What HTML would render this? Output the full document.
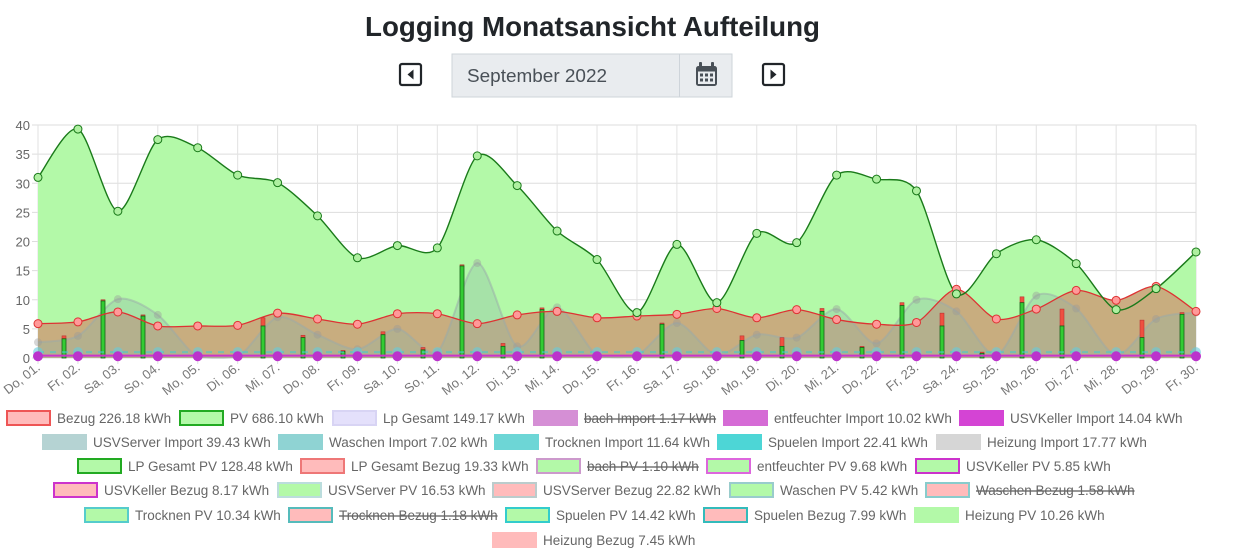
<!DOCTYPE html>
<html><head><meta charset="utf-8"><style>
body{margin:0;width:1246px;height:558px;background:#fff;overflow:hidden;font-family:"Liberation Sans",sans-serif}
svg text{font-family:"Liberation Sans",Arial,sans-serif}
</style></head><body>
<svg id="s" width="1246" height="558" xmlns="http://www.w3.org/2000/svg" style="position:absolute;left:0;top:0">
<text x="365" y="36" textLength="455" lengthAdjust="spacingAndGlyphs" font-weight="bold" font-size="28" fill="#212529">Logging Monatsansicht Aufteilung</text>
<rect x="400" y="64" width="21" height="21" rx="2" fill="none" stroke="#212529" stroke-width="2.2"/>
<path d="M413.5 69.5 L413.5 79.5 L407.5 74.5 Z" fill="#212529"/>
<rect x="452" y="54" width="280" height="43" fill="#e9ecef" stroke="#ced4da"/>
<line x1="679.5" y1="54" x2="679.5" y2="97" stroke="#ced4da"/>
<text x="467" y="82" font-size="18" fill="#495057" textLength="140" lengthAdjust="spacingAndGlyphs">September 2022</text>
<rect x="696" y="66" width="21" height="20" rx="2.5" fill="#495057"/>
<rect x="698" y="71.5" width="17" height="12.5" fill="#e9ecef"/>
<rect x="699" y="62" width="3" height="6" rx="1" fill="#495057"/><rect x="711" y="62" width="3" height="6" rx="1" fill="#495057"/>
<g fill="#495057"><rect x="700" y="73.5" width="3" height="3"/><rect x="705" y="73.5" width="3" height="3"/><rect x="710" y="73.5" width="3" height="3"/><rect x="700" y="78.5" width="3" height="3"/><rect x="705" y="78.5" width="3" height="3"/><rect x="710" y="78.5" width="3" height="3"/></g>
<rect x="763" y="64" width="21" height="21" rx="2" fill="none" stroke="#212529" stroke-width="2.2"/>
<path d="M770.5 69.5 L770.5 79.5 L776.5 74.5 Z" fill="#212529"/>
<g id="g"></g>
</svg>
<script>
var g=document.getElementById('g'),h='';
var X0=38,STEP=(1196-38)/29,Y0=358,K=(358-125)/40;
function X(i){return X0+i*STEP}function Y(v){return Y0-v*K}
var pv=[31,39.3,25.2,37.5,36.1,31.4,30.1,24.4,17.2,19.3,18.9,34.7,29.6,21.8,16.9,7.8,19.5,9.5,21.4,19.8,31.4,30.7,28.7,11.0,17.9,20.3,16.2,8.3,11.9,18.2];
var bz=[5.9,6.2,7.9,5.5,5.5,5.6,7.7,6.7,5.8,7.6,7.6,5.9,7.4,8.0,6.9,7.2,7.5,8.5,6.9,8.3,6.6,5.8,6.1,11.8,6.7,8.4,11.6,9.9,12.3,8.0];
var gr=[2.7,3.8,10.1,7.4,0.2,0.2,7,4,1.5,5,1,16.3,2,8.7,0.5,0.5,6,0.5,4,3.5,8.4,2.5,10,8,0.5,10.7,8.5,0.5,6.7,7.8];
function cl(y){return Math.min(y,Y0)}
function path(d){var p=d.map(function(v,i){return[X(i),Y(v)]});var s='M'+p[0][0]+' '+p[0][1];
for(var i=0;i<p.length-1;i++){var a=p[i-1]||p[i],b=p[i],c=p[i+1],e=p[i+2]||c,t=0.14;
s+=' C'+(b[0]+(c[0]-a[0])*t)+' '+cl(b[1]+(c[1]-a[1])*t)+' '+(c[0]-(e[0]-b[0])*t)+' '+cl(c[1]-(e[1]-b[1])*t)+' '+c[0]+' '+c[1];}return s}
function area(d){return path(d)+' L'+X(29)+' '+Y0+' L'+X0+' '+Y0+' Z'}
for(var v=0;v<=40;v+=5){h+='<line x1="32" x2="1196" y1="'+Y(v)+'" y2="'+Y(v)+'" stroke="#ddd"/>';
h+='<text x="30" y="'+(Y(v)+5)+'" text-anchor="end" font-size="13" fill="#666">'+v+'</text>';}
var days=['Do','Fr','Sa','So','Mo','Di','Mi'];
for(var i=0;i<30;i++){h+='<line x1="'+X(i)+'" x2="'+X(i)+'" y1="125" y2="364" stroke="#e2e2e2"/>';
var lab=days[i%7]+', '+(i<9?'0':'')+(i+1)+'.';
h+='<text transform="translate('+(X(i)+3)+',369) rotate(-38)" text-anchor="end" font-size="13" fill="#777">'+lab+'</text>';}
h+='<line x1="1196" x2="1196" y1="125" y2="364" stroke="#ddd"/>';
h+='<path d="'+area(pv)+'" fill="#b3f9a8"/>';
h+='<path d="'+area(bz)+'" fill="#c9a97c" fill-opacity="0.95"/>';
h+='<path d="'+area(gr)+'" fill="#8fb8a8" fill-opacity="0.35"/>';
h+='<path d="'+path(gr)+'" fill="none" stroke="#9aa" stroke-opacity="0.5" stroke-width="2"/>';
var bars=[[64,3.8,3.3],[103,10,9.8],[143,7.4,7.2],[263,6.9,5.5],[303,3.9,3.5],[343,1.3,1.1],[383,4.5,4],[423,1.8,1.4],[462,16,15.8],[503,2.5,2],[542,8.6,8.3],[662,6,5.8],[742,3.8,3],[782,3.5,2],[822,8.5,8],[862,2,1.8],[902,9.5,9],[942,7.7,5.5],[982,1,0.8],[1022,10.5,9.5],[1062,8.4,5.5],[1142,6.5,3.5],[1182,7.8,7.5]];
bars.forEach(function(b){h+='<rect x="'+(b[0]-2)+'" y="'+Y(b[1])+'" width="4" height="'+(Y(b[2])-Y(b[1]))+'" fill="#ef5040" stroke="#b33" stroke-width="0.6"/>';
h+='<rect x="'+(b[0]-2)+'" y="'+Y(b[2])+'" width="4" height="'+(Y0-Y(b[2]))+'" fill="#33cc33" stroke="#186018" stroke-width="0.8"/>';});
h+='<line x1="38" x2="1196" y1="'+Y(1)+'" y2="'+Y(1)+'" stroke="#4cc" stroke-width="2" stroke-dasharray="6,6" opacity=".6"/>';
h+='<line x1="38" x2="1196" y1="'+Y(0.4)+'" y2="'+Y(0.4)+'" stroke="#c3c" stroke-width="2"/>';
h+='<path d="'+path(bz)+'" fill="none" stroke="#d33" stroke-width="1.3"/>';
h+='<path d="'+path(pv)+'" fill="none" stroke="#1a7a1a" stroke-width="1.4"/>';
for(var i=0;i<30;i++){
h+='<circle cx="'+X(i)+'" cy="'+Y(gr[i])+'" r="4" fill="#999" opacity=".4"/>';
h+='<circle cx="'+X(i)+'" cy="'+Y(1)+'" r="5" fill="#6cd" opacity=".6"/>';
h+='<circle cx="'+X(i)+'" cy="'+Y(0.3)+'" r="5" fill="#b3c"/>';
h+='<circle cx="'+X(i)+'" cy="'+Y(bz[i])+'" r="4" fill="#f99" stroke="#d33"/>';
h+='<circle cx="'+X(i)+'" cy="'+Y(pv[i])+'" r="4" fill="#aef0a0" stroke="#1a7a1a"/>';}
var L=[
[418,[[6,'Bezug 226.18 kWh','#fbb','#e55'],[179,'PV 686.10 kWh','#b3f9a8','#2a2'],[332,'Lp Gesamt 149.17 kWh','#e4e0fb','#d8d4f4'],[533,'bach Import 1.17 kWh','#d58fd5','#d58fd5',1],[723,'entfeuchter Import 10.02 kWh','#d56bd5','#d56bd5'],[959,'USVKeller Import 14.04 kWh','#d444d4','#d444d4']]],
[442,[[42,'USVServer Import 39.43 kWh','#b5d3d3','#b5d3d3'],[278,'Waschen Import 7.02 kWh','#8fd3d3','#8fd3d3'],[494,'Trocknen Import 11.64 kWh','#6dd6d6','#6dd6d6'],[717,'Spuelen Import 22.41 kWh','#4dd6d6','#4dd6d6'],[936,'Heizung Import 17.77 kWh','#d6d6d6','#d6d6d6']]],
[466,[[77,'LP Gesamt PV 128.48 kWh','#b3f9a8','#2a2'],[300,'LP Gesamt Bezug 19.33 kWh','#fbb','#e77'],[536,'bach PV 1.10 kWh','#b3f9a8','#c9c',1],[706,'entfeuchter PV 9.68 kWh','#b3f9a8','#d6d'],[915,'USVKeller PV 5.85 kWh','#b3f9a8','#c3c']]],
[490,[[53,'USVKeller Bezug 8.17 kWh','#fbb','#c3c'],[277,'USVServer PV 16.53 kWh','#b3f9a8','#bdd'],[492,'USVServer Bezug 22.82 kWh','#fbb','#bcc'],[729,'Waschen PV 5.42 kWh','#b3f9a8','#9cc'],[925,'Waschen Bezug 1.58 kWh','#fbb','#8cc',1]]],
[515,[[84,'Trocknen PV 10.34 kWh','#b3f9a8','#5cc'],[288,'Trocknen Bezug 1.18 kWh','#fbb','#5bb',1],[505,'Spuelen PV 14.42 kWh','#b3f9a8','#3cc'],[703,'Spuelen Bezug 7.99 kWh','#fbb','#3bb'],[914,'Heizung PV 10.26 kWh','#b3f9a8','#b3f9a8']]],
[540,[[492,'Heizung Bezug 7.45 kWh','#fbb','#fbb']]]];
L.forEach(function(r){var y=r[0];r[1].forEach(function(e){
h+='<rect x="'+(e[0]+1)+'" y="'+(y-7)+'" width="43" height="14" fill="'+e[2]+'" stroke="'+e[3]+'" stroke-width="2"/>';
h+='<text x="'+(e[0]+51)+'" y="'+(y+5)+'" font-size="13.5" fill="#666"'+(e[4]?' text-decoration="line-through"':'')+'>'+e[1]+'</text>';
});});
g.innerHTML=h;
</script>
</body></html>
